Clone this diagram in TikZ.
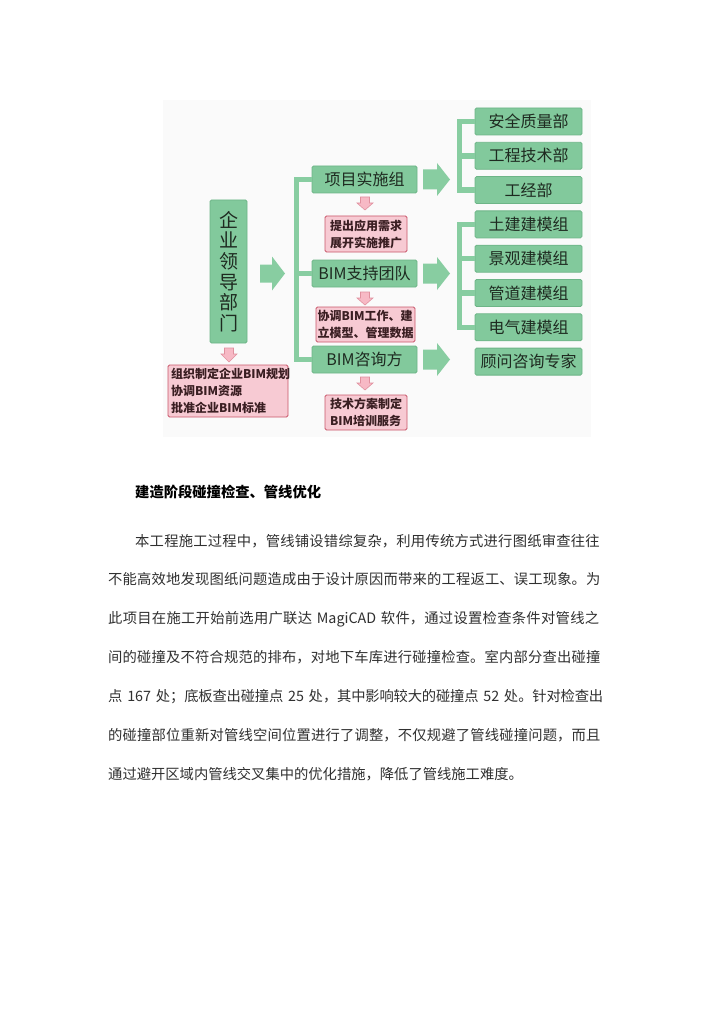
\documentclass[tikz,border=0pt]{standalone}
\usepackage{fontspec}
\setmainfont{Noto Sans CJK SC}
\usetikzlibrary{calc}
\definecolor{gfill}{HTML}{82C99C}
\definecolor{gdraw}{HTML}{6DB587}
\definecolor{gline}{HTML}{88CDA1}
\definecolor{pfill}{HTML}{F7CAD3}
\definecolor{pdraw}{HTML}{C9566A}
\definecolor{afill}{HTML}{F7B9C5}
\definecolor{adraw}{HTML}{E0909E}
\definecolor{gtext}{HTML}{1E2A20}
\definecolor{ptext}{HTML}{3A1E22}
\definecolor{bodytext}{HTML}{303030}
\newcommand\jline[1]{\XeTeXlinebreaklocale "zh"\XeTeXlinebreakskip=0pt plus 2pt minus 0.4pt\parfillskip=0pt\noindent #1\par}
% block arrow to the right: x0, xh, xt, yc, shaft half, head half
\newcommand\blockarrowR[6]{\fill[gline] (#1,#4-#5) -- (#2,#4-#5) -- (#2,#4-#6) -- (#3,#4) -- (#2,#4+#6) -- (#2,#4+#5) -- (#1,#4+#5) -- cycle;}
% pink arrow down: xc, y0, yh, yt, shaft half, head half
\newcommand\pinkdown[6]{\filldraw[fill=afill, draw=adraw, line width=0.6pt, line join=miter] (#1-#5,#2) -- (#1+#5,#2) -- (#1+#5,#3) -- (#1+#6,#3) -- (#1,#4) -- (#1-#6,#3) -- (#1-#5,#3) -- cycle;}
\tikzset{
  gbox/.style={draw=gdraw, fill=gfill, rounded corners=1.5pt, line width=0.8pt, text=gtext,
    font=\fontsize{16}{18}\selectfont, inner sep=0pt, minimum height=27pt},
  gcol/.style={gbox, minimum width=105pt},
  rcol/.style={gbox, minimum width=107pt},
  pbox/.style={draw=pdraw, fill=pfill, rounded corners=1.5pt, line width=0.8pt, text=ptext,
    font=\fontsize{12}{17}\selectfont\bfseries, inner sep=0pt, align=left},
  bracket/.style={draw=gline, line width=5.5pt, line join=miter},
  bodyline/.style={anchor=base west, inner sep=0pt, text=bodytext, font=\fontsize{14.3}{20}\selectfont}
}
\begin{document}
\begin{tikzpicture}[x=1pt, y=-1pt]
\useasboundingbox (0,0) rectangle (724,1024);
\fill[white] (0,0) rectangle (724,1024);
\fill[black!2] (163,100) rectangle (591,437);

% coordinates for bracket spines
\coordinate (bxL) at (296.5,0);
\coordinate (bxR) at (459.5,0);

% green nodes
\node[gbox, minimum width=37pt, minimum height=143pt, align=center,
  font=\fontsize{19}{20.6}\selectfont] (lead) at (228.5,271.5) {企\\业\\领\\导\\部\\门};
\node[gcol] (g1) at (364.5,179.5) {项目实施组};
\node[gcol] (g2) at (364.5,273.5) {BIM支持团队};
\node[gcol] (g3) at (364.5,359.5) {BIM咨询方};

\node[rcol] (r1) at (528.5,121.5) {安全质量部};
\node[rcol] (r2) at (528.5,155.8) {工程技术部};
\node[rcol] (r3) at (528.5,190.1) {工经部};
\node[rcol] (r4) at (528.5,224.4) {土建建模组};
\node[rcol] (r5) at (528.5,258.7) {景观建模组};
\node[rcol] (r6) at (528.5,293.0) {管道建模组};
\node[rcol] (r7) at (528.5,327.3) {电气建模组};
\node[rcol] (r8) at (528.5,361.6) {顾问咨询专家};

% pink nodes
\node[pbox, minimum width=82pt, minimum height=36pt] (p1) at (366,234) {提出应用需求\\展开实施推广};
\node[pbox, minimum width=99pt, minimum height=35pt] (p2) at (365.5,324.5) {协调BIM工作、建\\立模型、管理数据};
\node[pbox, minimum width=82pt, minimum height=35pt] (p3) at (366,412.5) {技术方案制定\\BIM培训服务};
\node[pbox, minimum width=120pt, minimum height=52pt, text width=114pt] (p0) at (228,391) {组织制定企业BIM规划\\协调BIM资源\\批准企业BIM标准};

% brackets
\draw[bracket] (g1.west) -- (g1.west -| bxL) -- (g3.west -| bxL) -- (g3.west);
\draw[bracket] (g2.west -| bxL) -- (g2.west);
\draw[bracket] (r1.west) -- (r1.west -| bxR) -- (r3.west -| bxR) -- (r3.west);
\draw[bracket] (r2.west -| bxR) -- (r2.west);
\draw[bracket] (r4.west) -- (r4.west -| bxR) -- (r7.west -| bxR) -- (r7.west);
\draw[bracket] (r5.west -| bxR) -- (r5.west);
\draw[bracket] (r6.west -| bxR) -- (r6.west);

% big green arrows
\blockarrowR{260}{272}{285}{273.5}{9}{17}
\blockarrowR{423}{437}{450}{179.5}{10}{16.5}
\blockarrowR{423}{437}{450}{273.5}{10}{16.5}
\blockarrowR{423}{437}{450}{359.5}{10}{16.5}

% pink down arrows
\pinkdown{365}{197}{203}{210}{4.5}{8}
\pinkdown{365}{292}{298}{305}{4.5}{8}
\pinkdown{365}{377}{383}{390}{4.5}{8}
\pinkdown{229}{348}{354}{362}{4.5}{8}

% text below
\node[bodyline, font=\fontsize{14.3}{20}\selectfont\bfseries, text=black] (head) at (135,497.4) {建造阶段碰撞检查、管线优化};
\node[bodyline, text width=468pt] (l1) at (135,546.4) {\jline{本工程施工过程中，管线铺设错综复杂，利用传统方式进行图纸审查往往}};
\node[bodyline, text width=495pt] (l2) at (108,584.4) {\jline{不能高效地发现图纸问题造成由于设计原因而带来的工程返工、误工现象。为}};
\node[bodyline, text width=495pt] (l3) at (108,623.4) {\jline{此项目在施工开始前选用广联达 MagiCAD 软件，通过设置检查条件对管线之}};
\node[bodyline, text width=495pt] (l4) at (108,662.4) {\jline{间的碰撞及不符合规范的排布，对地下车库进行碰撞检查。室内部分查出碰撞}};
\node[bodyline, text width=495pt] (l5) at (108,701.4) {\jline{点 167 处；底板查出碰撞点 25 处，其中影响较大的碰撞点 52 处。针对检查出}};
\node[bodyline, text width=495pt] (l6) at (108,740.4) {\jline{的碰撞部位重新对管线空间位置进行了调整，不仅规避了管线碰撞问题，而且}};
\node[bodyline] (l7) at (108,779.4) {通过避开区域内管线交叉集中的优化措施，降低了管线施工难度。};
\end{tikzpicture}
\end{document}
